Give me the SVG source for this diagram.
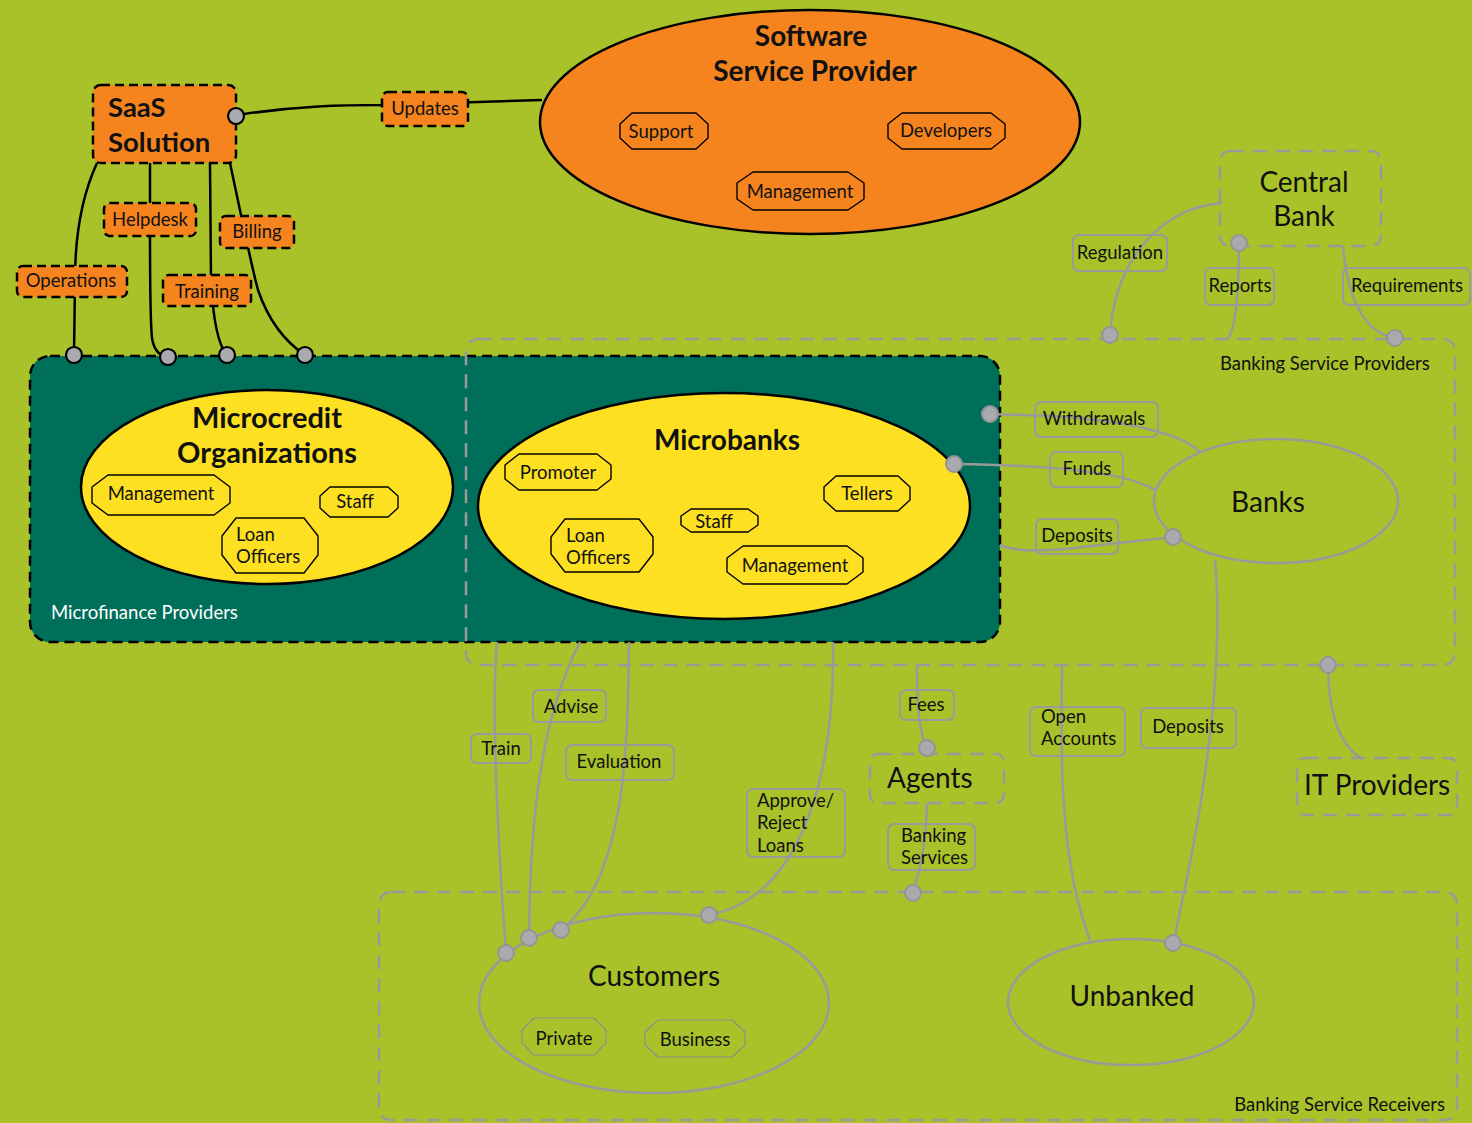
<svg xmlns="http://www.w3.org/2000/svg" width="1472" height="1123" viewBox="0 0 1472 1123">
  <style>
    text { font-family: Lato, "Open Sans", "Noto Sans", sans-serif; fill: #111; }
    .title { font-size: 28px; font-weight: bold; text-anchor: middle; }
    .big { font-size: 28px; text-anchor: middle; }
    .lbl { font-size: 18.5px; text-anchor: middle; }
    .lbl-l { font-size: 18.5px; }
    .dark { stroke: #000; stroke-width: 2.5; fill: none; }
    .grey { stroke: #9A9A9A; stroke-width: 2.5; fill: none; }
    .obox { fill: #F5841F; stroke: #000; stroke-width: 2.5; stroke-dasharray: 9 5; }
    .gbox { fill: none; stroke: #9A9A9A; stroke-width: 2; }
    .gcont { fill: none; stroke: #9A9A9A; stroke-width: 2.5; stroke-dasharray: 14 9; }
    .sub { fill: none; stroke: #000; stroke-width: 1.4; stroke-linejoin: round; }
    .subg { fill: none; stroke: #8E8E8E; stroke-width: 1.2; stroke-linejoin: round; }
    .port { fill: #A8AAAD; stroke: #000; stroke-width: 2.2; }
    .gport { fill: #A8AAAD; stroke: #949494; stroke-width: 2; }
  </style>

  <!-- background -->
  <rect x="0" y="0" width="1472" height="1123" fill="#A9C22A"/>

  <!-- Microfinance Providers container -->
  <g id="microfinance-providers">
    <rect x="30" y="356" width="970" height="286" rx="20" fill="#006F5A" stroke="#000" stroke-width="2.5" stroke-dasharray="10 6"/>
    <text x="51" y="619" style="font-size:18.5px; fill:#fff">Microfinance Providers</text>
  </g>

  <!-- Banking Service Providers container -->
  <g id="banking-service-providers">
    <rect class="gcont" x="466" y="339" width="989" height="326" rx="12"/>
    <text x="1220" y="370" style="font-size:18.5px">Banking Service Providers</text>
  </g>

  <!-- Banking Service Receivers container -->
  <g id="banking-service-receivers">
    <rect class="gcont" x="379" y="892" width="1078" height="228" rx="12"/>
    <text x="1445" y="1111" style="font-size:18.5px; text-anchor:end">Banking Service Receivers</text>
  </g>

  <!-- connectors -->
  <g id="connectors">
    <!-- SaaS links -->
    <path class="dark" d="M244,114 C300,106 340,105 382,105 L542,100"/>
    <path class="dark" d="M97,163 C80,200 75,240 75,280 L74,355"/>
    <path class="dark" d="M150,163 L150,230 C150,280 150,320 152,338 C154,352 162,357 168,357"/>
    <path class="dark" d="M210,163 L211,280 C213,320 218,345 227,355"/>
    <path class="dark" d="M230,163 C240,210 250,260 258,290 C270,325 290,345 305,355"/>
    <!-- Central Bank links -->
    <path class="grey" d="M1222,203 C1160,208 1115,260 1110,335"/>
    <path class="grey" d="M1239,243 C1239,280 1237,325 1228,339"/>
    <path class="grey" d="M1343,246 C1347,290 1360,332 1395,338"/>
    <!-- Microbanks / Banks links -->
    <path class="grey" d="M990,414 L1050,416 C1120,420 1180,432 1200,452"/>
    <path class="grey" d="M954,464 C1020,465 1120,468 1155,490"/>
    <path class="grey" d="M1000,545 C1020,554 1060,550 1100,545 L1173,537"/>
    <path class="grey" d="M1215,560 C1222,640 1215,760 1173,943"/>
    <path class="grey" d="M1062,664 C1062,720 1055,850 1090,940"/>
    <!-- Agents / IT links -->
    <path class="grey" d="M917,664 C917,700 918,730 927,748"/>
    <path class="grey" d="M927,803 C927,840 920,870 913,893"/>
    <path class="grey" d="M1328,665 C1328,700 1335,745 1363,759"/>
    <!-- Microfinance to Customers -->
    <path class="grey" d="M497,642 C492,700 495,800 506,953"/>
    <path class="grey" d="M580,642 C545,710 530,800 529,938"/>
    <path class="grey" d="M629,642 C628,750 625,880 561,930"/>
    <path class="grey" d="M833,642 C835,800 790,900 709,915"/>
  </g>

  <!-- SaaS Solution -->
  <g id="saas-solution">
    <rect class="obox" x="93" y="85" width="143" height="78" rx="8"/>
    <text x="108" y="117" style="font-size:27.5px; font-weight:bold">SaaS</text>
    <text x="108" y="152" style="font-size:27.5px; font-weight:bold">Solution</text>
  </g>

  <!-- SaaS link labels -->
  <g id="label-updates"><rect class="obox" x="382" y="92" width="86" height="34" rx="6"/><text class="lbl" x="425" y="115">Updates</text></g>
  <g id="label-helpdesk"><rect class="obox" x="104" y="203" width="92" height="33" rx="6"/><text class="lbl" x="150" y="226">Helpdesk</text></g>
  <g id="label-billing"><rect class="obox" x="220" y="216" width="74" height="32" rx="6"/><text class="lbl" x="257" y="238">Billing</text></g>
  <g id="label-operations"><rect class="obox" x="17" y="266" width="110" height="31" rx="6"/><text class="lbl" x="71" y="287">Operations</text></g>
  <g id="label-training"><rect class="obox" x="163" y="275" width="88" height="31" rx="6"/><text class="lbl" x="207" y="298">Training</text></g>

  <!-- Software Service Provider -->
  <g id="software-service-provider">
    <ellipse cx="810" cy="122" rx="270" ry="112" fill="#F5841F" stroke="#000" stroke-width="2.5"/>
    <text class="title" x="811" y="46">Software</text>
    <text class="title" x="815" y="81">Service Provider</text>
    <polygon class="sub" points="632,113 696,113 708,124 708,138 696,149 632,149 620,138 620,124"/>
    <text class="lbl" x="661" y="138">Support</text>
    <polygon class="sub" points="902,113 991,113 1005,124 1005,138 991,149 902,149 888,138 888,124"/>
    <text class="lbl" x="946" y="137">Developers</text>
    <polygon class="sub" points="753,172 848,172 864,183 864,199 848,210 753,210 737,199 737,183"/>
    <text class="lbl" x="800" y="198">Management</text>
  </g>

  <!-- Microcredit Organizations -->
  <g id="microcredit-organizations">
    <ellipse cx="267" cy="487" rx="186" ry="97" fill="#FEE022" stroke="#000" stroke-width="2.5"/>
    <text class="title" x="267" y="428" style="font-size:29px">Microcredit</text>
    <text class="title" x="267" y="463" style="font-size:29px">Organizations</text>
    <polygon class="sub" points="108,475 214,475 230,487 230,503 214,515 108,515 92,503 92,487"/>
    <text class="lbl" x="161" y="500">Management</text>
    <polygon class="sub" points="330,487 388,487 398,496 398,508 388,517 330,517 320,508 320,496"/>
    <text class="lbl" x="355" y="508">Staff</text>
    <polygon class="sub" points="236,518 304,518 318,536 318,555 304,573 236,573 222,555 222,536"/>
    <text class="lbl-l" x="236" y="541">Loan</text>
    <text class="lbl-l" x="236" y="563">Officers</text>
  </g>

  <!-- Microbanks -->
  <g id="microbanks">
    <ellipse cx="724" cy="506" rx="246" ry="113" fill="#FEE022" stroke="#000" stroke-width="2.5"/>
    <text class="title" x="727" y="450">Microbanks</text>
    <polygon class="sub" points="519,454 597,454 611,465 611,479 597,490 519,490 505,479 505,465"/>
    <text class="lbl" x="558" y="479">Promoter</text>
    <polygon class="sub" points="836,476 898,476 910,487 910,500 898,511 836,511 824,500 824,487"/>
    <text class="lbl" x="867" y="500">Tellers</text>
    <polygon class="sub" points="691,509 748,509 758,516 758,525 748,532 691,532 681,525 681,516"/>
    <text class="lbl" x="714" y="528">Staff</text>
    <polygon class="sub" points="565,519 639,519 653,537 653,554 639,572 565,572 551,554 551,537"/>
    <text class="lbl-l" x="566" y="542">Loan</text>
    <text class="lbl-l" x="566" y="564">Officers</text>
    <polygon class="sub" points="743,546 847,546 863,558 863,572 847,584 743,584 727,572 727,558"/>
    <text class="lbl" x="795" y="572">Management</text>
  </g>

  <!-- Central Bank -->
  <g id="central-bank">
    <rect class="gcont" x="1220" y="151" width="161" height="95" rx="10"/>
    <text class="big" x="1304" y="192">Central</text>
    <text class="big" x="1304" y="226">Bank</text>
  </g>

  <!-- Banks -->
  <g id="banks">
    <ellipse class="grey" cx="1276" cy="501" rx="122" ry="62"/>
    <text class="big" x="1268" y="512">Banks</text>
  </g>

  <!-- Agents -->
  <g id="agents">
    <rect class="gcont" x="870" y="754" width="134" height="49" rx="8"/>
    <text x="887" y="788" style="font-size:28px">Agents</text>
  </g>

  <!-- IT Providers -->
  <g id="it-providers">
    <rect class="gcont" x="1297" y="758" width="160" height="57" rx="8"/>
    <text x="1304" y="795" style="font-size:28px">IT Providers</text>
  </g>

  <!-- Customers -->
  <g id="customers">
    <ellipse class="grey" cx="654" cy="1003" rx="175" ry="90"/>
    <text class="big" x="654" y="986">Customers</text>
    <polygon class="subg" points="534,1018 594,1018 606,1030 606,1043 594,1055 534,1055 522,1043 522,1030"/>
    <text class="lbl" x="564" y="1045">Private</text>
    <polygon class="subg" points="658,1020 732,1020 745,1032 745,1045 732,1057 658,1057 645,1045 645,1032"/>
    <text class="lbl" x="695" y="1046">Business</text>
  </g>

  <!-- Unbanked -->
  <g id="unbanked">
    <ellipse class="grey" cx="1131" cy="1002" rx="123" ry="63"/>
    <text class="big" x="1132" y="1006">Unbanked</text>
  </g>

  <!-- grey link labels -->
  <g id="label-regulation"><rect class="gbox" x="1073" y="235" width="94" height="36" rx="6"/><text class="lbl" x="1120" y="259">Regulation</text></g>
  <g id="label-reports"><rect class="gbox" x="1205" y="268" width="69" height="37" rx="6"/><text class="lbl" x="1240" y="292">Reports</text></g>
  <g id="label-requirements"><rect class="gbox" x="1343" y="268" width="127" height="37" rx="6"/><text class="lbl" x="1407" y="292">Requirements</text></g>
  <g id="label-withdrawals"><rect class="gbox" x="1035" y="402" width="123" height="35" rx="6"/><text class="lbl" x="1094" y="425">Withdrawals</text></g>
  <g id="label-funds"><rect class="gbox" x="1050" y="452" width="73" height="35" rx="6"/><text class="lbl" x="1087" y="475">Funds</text></g>
  <g id="label-deposits-banks"><rect class="gbox" x="1036" y="519" width="82" height="35" rx="6"/><text class="lbl" x="1077" y="542">Deposits</text></g>
  <g id="label-deposits-unbanked"><rect class="gbox" x="1141" y="708" width="95" height="40" rx="6"/><text class="lbl" x="1188" y="733">Deposits</text></g>
  <g id="label-fees"><rect class="gbox" x="900" y="690" width="54" height="30" rx="6"/><text class="lbl" x="926" y="711">Fees</text></g>
  <g id="label-open-accounts"><rect class="gbox" x="1030" y="707" width="95" height="49" rx="6"/><text class="lbl-l" x="1041" y="723">Open</text><text class="lbl-l" x="1041" y="745">Accounts</text></g>
  <g id="label-banking-services"><rect class="gbox" x="888" y="824" width="87" height="46" rx="6"/><text class="lbl-l" x="901" y="842">Banking</text><text class="lbl-l" x="901" y="864">Services</text></g>
  <g id="label-train"><rect class="gbox" x="471" y="734" width="60" height="29" rx="6"/><text class="lbl" x="501" y="755">Train</text></g>
  <g id="label-advise"><rect class="gbox" x="533" y="690" width="73" height="32" rx="6"/><text class="lbl" x="571" y="713">Advise</text></g>
  <g id="label-evaluation"><rect class="gbox" x="566" y="745" width="108" height="35" rx="6"/><text class="lbl" x="619" y="768">Evaluation</text></g>
  <g id="label-approve"><rect class="gbox" x="747" y="789" width="98" height="68" rx="6"/><text class="lbl-l" x="757" y="807">Approve/</text><text class="lbl-l" x="757" y="829">Reject</text><text class="lbl-l" x="757" y="852">Loans</text></g>

  <!-- ports -->
  <g id="ports">
    <circle class="port" cx="236" cy="116" r="8"/>
    <circle class="port" cx="74" cy="355" r="8"/>
    <circle class="port" cx="168" cy="357" r="8"/>
    <circle class="port" cx="227" cy="355" r="8"/>
    <circle class="port" cx="305" cy="355" r="8"/>
    <circle class="gport" cx="1239" cy="243" r="8"/>
    <circle class="gport" cx="1110" cy="335" r="8"/>
    <circle class="gport" cx="1395" cy="338" r="8"/>
    <circle class="gport" cx="990" cy="414" r="8"/>
    <circle class="gport" cx="954" cy="464" r="8"/>
    <circle class="gport" cx="1173" cy="537" r="8"/>
    <circle class="gport" cx="1328" cy="665" r="8"/>
    <circle class="gport" cx="927" cy="748" r="8"/>
    <circle class="gport" cx="913" cy="893" r="8"/>
    <circle class="gport" cx="506" cy="953" r="8"/>
    <circle class="gport" cx="529" cy="938" r="8"/>
    <circle class="gport" cx="561" cy="930" r="8"/>
    <circle class="gport" cx="709" cy="915" r="8"/>
    <circle class="gport" cx="1173" cy="943" r="8"/>
  </g>
</svg>
